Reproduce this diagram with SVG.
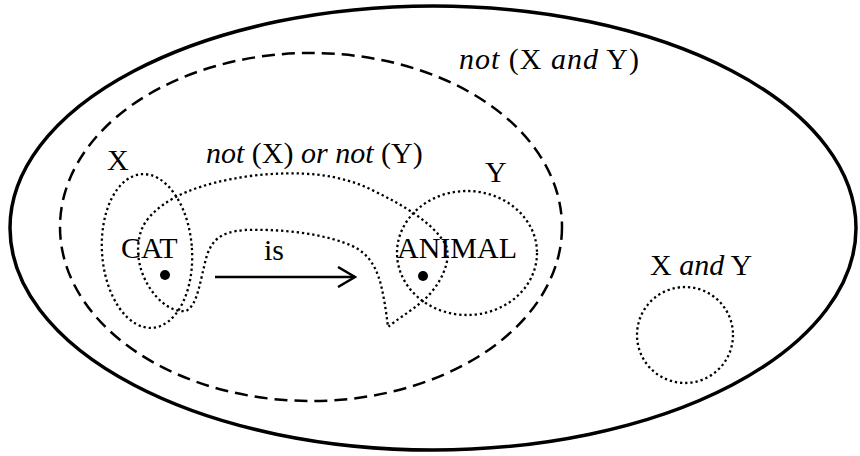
<svg xmlns="http://www.w3.org/2000/svg" width="860" height="456" viewBox="0 0 860 456">
<style>
text{font-family:"Liberation Serif","Times New Roman",serif;font-size:30px;fill:#000}
.i{font-style:italic}
.dot{fill:none;stroke:#000;stroke-width:2.3;stroke-dasharray:2.3 2.9}
.dash{fill:none;stroke:#000;stroke-width:2.5;stroke-dasharray:13 7}
.solid{fill:none;stroke:#000;stroke-width:3.5}
</style>
<defs>
<marker id="arr" viewBox="0 0 20 22" refX="18" refY="11" markerWidth="20" markerHeight="22" markerUnits="userSpaceOnUse" orient="auto">
<path d="M1,1 L18,11 L1,21" fill="none" stroke="#000" stroke-width="2.5"/>
</marker>
</defs>
<g id="universe">
<ellipse class="solid" cx="433" cy="228" rx="423" ry="222"/>
<text x="459" y="69" textLength="180"><tspan class="i">not</tspan> (X <tspan class="i">and</tspan> Y)</text>
</g>
<g id="not-x-and-y">
<ellipse class="dash" cx="311" cy="227" rx="251" ry="174"/>
</g>
<g id="not-x-or-not-y">
<path class="dot" d="M147,220 C165,197 200,183 250,176 C300,170 340,174 372,190 C405,206 432,222 446,245 C452,262 440,285 424,300 C410,312 396,320 388,327 C386,310 384,298 381,285 C375,262 365,250 345,243 C315,232 275,229 245,230 C218,232 212,242 207,255 C200,280 198,305 186,311 C170,313 152,297 143,275 C135,255 137,233 147,220 Z"/>
<text x="206" y="163"><tspan class="i">not</tspan> (X) <tspan class="i">or not</tspan> (Y)</text>
</g>
<g id="x">
<ellipse class="dot" cx="147" cy="251" rx="45" ry="77" transform="rotate(-4 147 251)"/>
<text x="107" y="170">X</text>
</g>
<g id="y">
<ellipse class="dot" cx="467" cy="253" rx="70" ry="62"/>
<text x="485" y="182">Y</text>
</g>
<g id="cat">
<circle cx="165" cy="275" r="5" fill="#000"/>
<text x="121" y="258">CAT</text>
</g>
<g id="animal">
<circle cx="423" cy="276" r="5" fill="#000"/>
<text x="397" y="258">ANIMAL</text>
</g>
<g id="x-and-y">
<circle class="dot" cx="685" cy="335" r="48"/>
<text x="650" y="275">X <tspan class="i">and</tspan> Y</text>
</g>
<g id="connectors">
<line x1="215" y1="277" x2="355" y2="277" stroke="#000" stroke-width="2.5" marker-end="url(#arr)"/>
<text x="264" y="260">is</text>
</g>
</svg>
